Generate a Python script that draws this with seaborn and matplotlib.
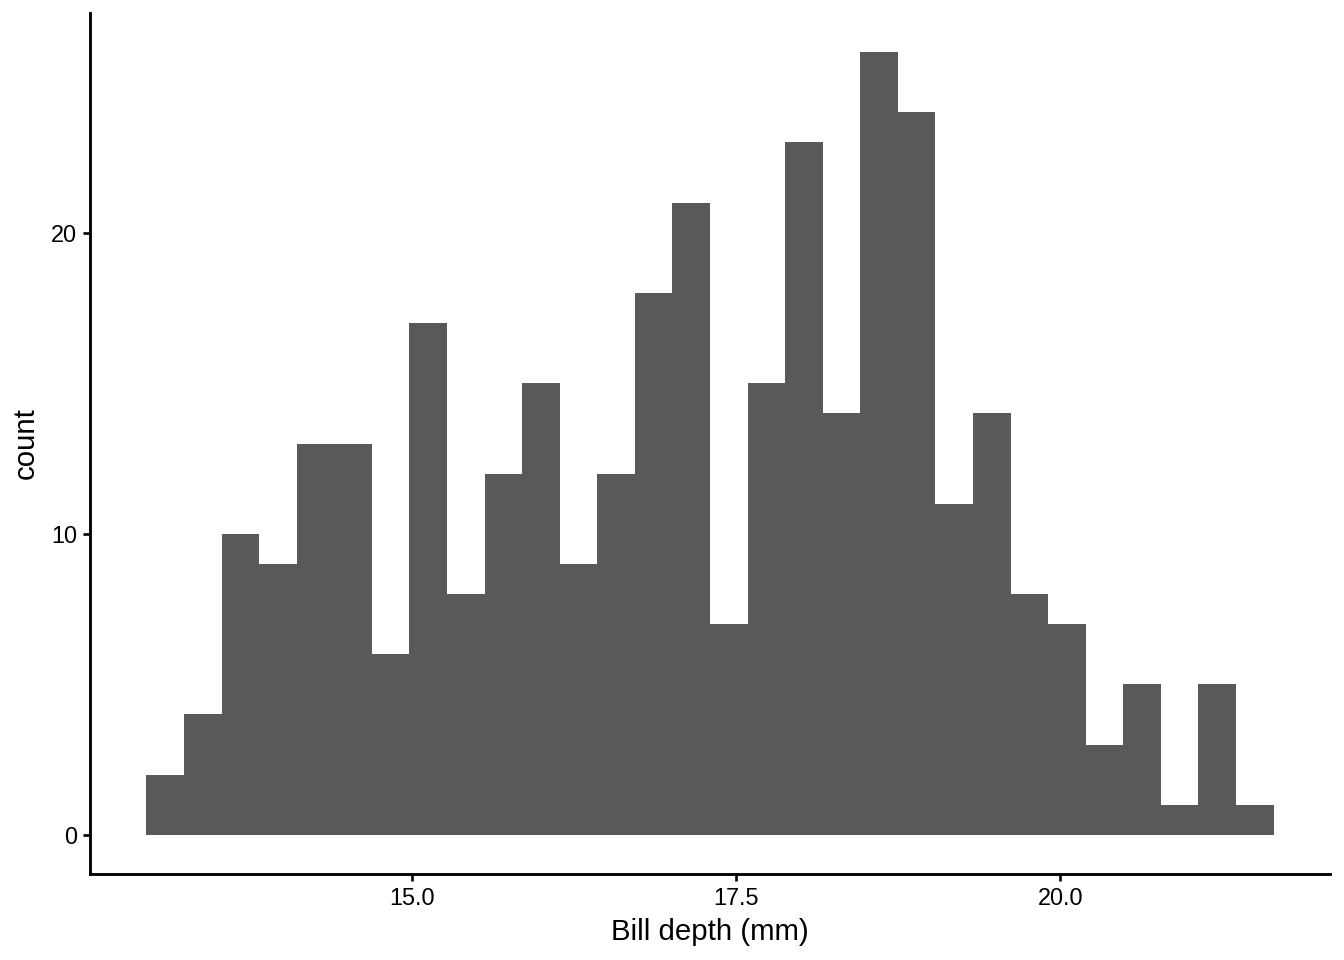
import numpy as np
import pandas as pd
import seaborn as sns
from matplotlib import pyplot as plt

# bill depth histogram, 30 bins centred on the minimum (13.1 mm)
counts = [2, 4, 10, 9, 13, 13, 6, 17, 8, 12, 15, 9, 12, 18, 21,
          7, 15, 23, 14, 26, 24, 11, 14, 8, 7, 3, 5, 1, 5, 1]
depth_min = 13.1
depth_max = 21.5
x_ticks = [15.0, 17.5, 20.0]
y_ticks = [0, 10, 20]

n_bins = len(counts)
width = (depth_max - depth_min) / (n_bins - 1)
edges = depth_min - width / 2 + width * np.arange(n_bins + 1)
centers = (edges[:-1] + edges[1:]) / 2
df = pd.DataFrame({'bill_depth': centers, 'count': counts})

sns.set_style('ticks')
plt.rcParams['font.family'] = ['Liberation Sans', 'DejaVu Sans']

fig = plt.figure(figsize=(7, 5), dpi=192)
ax = fig.add_axes([90 / 1344, 1 - 874 / 960, 1240 / 1344, 861 / 960])

sns.histplot(data=df, x='bill_depth', weights='count', bins=list(edges), ax=ax,
             color='#595959', alpha=1, linewidth=0, edgecolor='none')

span = edges[-1] - edges[0]
ax.set_xlim(edges[0] - 0.05 * span, edges[-1] + 0.05 * span)
ytop = max(counts)
ax.set_ylim(-0.05 * ytop, ytop * 1.05)
ax.set_xticks(x_ticks)
ax.set_xticklabels([f'{t:.1f}' for t in x_ticks])
ax.set_yticks(y_ticks)

ax.set_xlabel('Bill depth (mm)', fontsize=11, color='black', labelpad=3)
ax.set_ylabel('count', fontsize=11, color='black', labelpad=4)
ax.tick_params(axis='both', labelsize=8.8, labelcolor='black', color='black',
               length=2.75, width=1.0, pad=2.2)
for side in ['top', 'right']:
    ax.spines[side].set_visible(False)
for side in ['left', 'bottom']:
    ax.spines[side].set_linewidth(1.07)
    ax.spines[side].set_color('black')

fig.savefig('out.png', dpi=192)
